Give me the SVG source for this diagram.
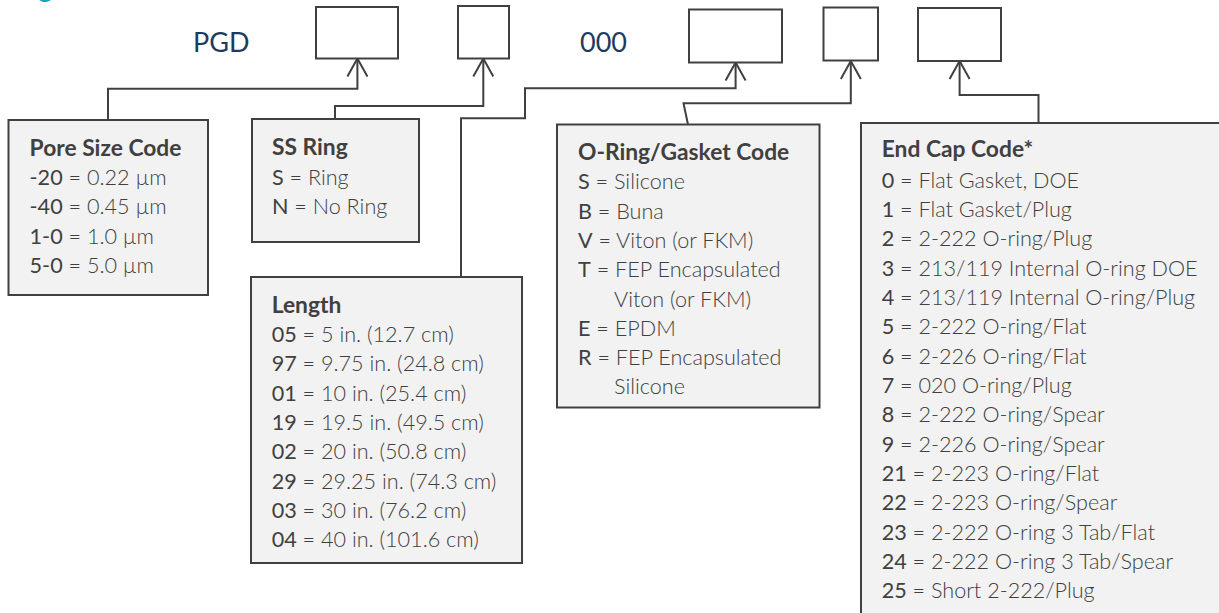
<svg xmlns="http://www.w3.org/2000/svg" width="1219" height="613" viewBox="0 0 1219 613">
<style>
.bg{fill:#ffffff}
.slot{fill:#ffffff;stroke:#404040;stroke-width:2}
.box{fill:#F2F2F2;stroke:#404040;stroke-width:2}
.conn{fill:none;stroke:#404040;stroke-width:2;marker-end:url(#open)}
.big{font-family:Lato,"Open Sans","Liberation Sans",sans-serif;font-size:27px;fill:#1F3A5F;font-weight:400}
.t{font-family:Lato,"Open Sans","Liberation Sans",sans-serif;font-size:21.6px;fill:#404040}
.h{font-weight:700;font-size:22.8px}
.k{font-weight:400}
.v{font-weight:300}
.teal{font-family:Lato,"Liberation Sans",sans-serif;font-size:28px;fill:#1AA3B5}
</style>
<defs>
<marker id="open" markerUnits="userSpaceOnUse" viewBox="0 0 20 22" markerWidth="20" markerHeight="22" refX="19" refY="11" orient="auto">
<path d="M1,1 L19,11 L1,21" fill="none" stroke="#404040" stroke-width="2"/>
</marker>
</defs>
<rect class="bg" x="0" y="0" width="1219" height="613"/>
<text class="teal" x="38" y="-3">g</text>

<g id="header">
<text class="big" x="193" y="52">PGD</text>
<text class="big" x="580" y="52">000</text>
</g>
<g id="slot-pore"><rect class="slot" x="316" y="7" width="82" height="51.5"/></g>
<g id="slot-ring"><rect class="slot" x="458" y="6" width="51" height="52.5"/></g>
<g id="slot-oring"><rect class="slot" x="689" y="9.5" width="93" height="53"/></g>
<g id="slot-length"><rect class="slot" x="823.5" y="7.5" width="54.5" height="53"/></g>
<g id="slot-endcap"><rect class="slot" x="918" y="8" width="83" height="53"/></g>

<g id="connectors">
<path class="conn" d="M108,120 V88.7 H357.4 V58.5"/>
<path class="conn" d="M335,119 V106 H483.3 V58.5"/>
<path class="conn" d="M461,277 V118.3 H525 V88.3 H735.6 V62.5"/>
<path class="conn" d="M688,124.5 L683.5,103.3 H850.8 V61"/>
<path class="conn" d="M1038.5,123 V95 H959.6 V61"/>
</g>

<g id="pore">
<rect class="box" x="8.5" y="120" width="199.5" height="175"/>
<text class="t" x="29.6"><tspan class="h" y="155.5">Pore Size Code</tspan>
<tspan x="29.6" y="185"><tspan class="k">-20</tspan><tspan class="v"> = 0.22 µm</tspan></tspan>
<tspan x="29.6" y="214.3"><tspan class="k">-40</tspan><tspan class="v"> = 0.45 µm</tspan></tspan>
<tspan x="29.6" y="243.6"><tspan class="k">1-0</tspan><tspan class="v"> = 1.0 µm</tspan></tspan>
<tspan x="29.6" y="272.9"><tspan class="k">5-0</tspan><tspan class="v"> = 5.0 µm</tspan></tspan></text>
</g>

<g id="ssring">
<rect class="box" x="252" y="119" width="167" height="123"/>
<text class="t" x="272"><tspan class="h" y="155">SS Ring</tspan>
<tspan x="272" y="185"><tspan class="k">S</tspan><tspan class="v"> = Ring</tspan></tspan>
<tspan x="272" y="214.3"><tspan class="k">N</tspan><tspan class="v"> = No Ring</tspan></tspan></text>
</g>

<g id="length">
<rect class="box" x="251" y="277" width="271" height="286"/>
<text class="t" x="271.7"><tspan class="h" y="312.7">Length</tspan>
<tspan x="271.7" y="342"><tspan class="k">05</tspan><tspan class="v"> = 5 in. (12.7 cm)</tspan></tspan>
<tspan x="271.7" y="371.3"><tspan class="k">97</tspan><tspan class="v"> = 9.75 in. (24.8 cm)</tspan></tspan>
<tspan x="271.7" y="400.6"><tspan class="k">01</tspan><tspan class="v"> = 10 in. (25.4 cm)</tspan></tspan>
<tspan x="271.7" y="429.9"><tspan class="k">19</tspan><tspan class="v"> = 19.5 in. (49.5 cm)</tspan></tspan>
<tspan x="271.7" y="459.2"><tspan class="k">02</tspan><tspan class="v"> = 20 in. (50.8 cm)</tspan></tspan>
<tspan x="271.7" y="488.5"><tspan class="k">29</tspan><tspan class="v"> = 29.25 in. (74.3 cm)</tspan></tspan>
<tspan x="271.7" y="517.8"><tspan class="k">03</tspan><tspan class="v"> = 30 in. (76.2 cm)</tspan></tspan>
<tspan x="271.7" y="547.1"><tspan class="k">04</tspan><tspan class="v"> = 40 in. (101.6 cm)</tspan></tspan></text>
</g>

<g id="oring">
<rect class="box" x="557" y="124.5" width="262.5" height="283"/>
<text class="t" x="578"><tspan class="h" y="160">O-Ring/Gasket Code</tspan>
<tspan x="578" y="189.3"><tspan class="k">S</tspan><tspan class="v"> = Silicone</tspan></tspan>
<tspan x="578" y="218.6"><tspan class="k">B</tspan><tspan class="v"> = Buna</tspan></tspan>
<tspan x="578" y="247.9"><tspan class="k">V</tspan><tspan class="v"> = Viton (or FKM)</tspan></tspan>
<tspan x="578" y="277.2"><tspan class="k">T</tspan><tspan class="v"> = FEP Encapsulated</tspan></tspan>
<tspan class="v" x="614" y="306.5">Viton (or FKM)</tspan>
<tspan x="578" y="335.8"><tspan class="k">E</tspan><tspan class="v"> = EPDM</tspan></tspan>
<tspan x="578" y="365.1"><tspan class="k">R</tspan><tspan class="v"> = FEP Encapsulated</tspan></tspan>
<tspan class="v" x="614" y="394.4">Silicone</tspan></text>
</g>

<g id="endcap">
<rect class="box" x="861" y="123" width="400" height="520"/>
<text class="t" x="881.7"><tspan class="h" y="157">End Cap Code*</tspan>
<tspan x="881.7" y="187.7"><tspan class="k">0</tspan><tspan class="v"> = Flat Gasket, DOE</tspan></tspan>
<tspan x="881.7" y="217"><tspan class="k">1</tspan><tspan class="v"> = Flat Gasket/Plug</tspan></tspan>
<tspan x="881.7" y="246.4"><tspan class="k">2</tspan><tspan class="v"> = 2-222 O-ring/Plug</tspan></tspan>
<tspan x="881.7" y="275.7"><tspan class="k">3</tspan><tspan class="v"> = 213/119 Internal O-ring DOE</tspan></tspan>
<tspan x="881.7" y="305"><tspan class="k">4</tspan><tspan class="v"> = 213/119 Internal O-ring/Plug</tspan></tspan>
<tspan x="881.7" y="334.4"><tspan class="k">5</tspan><tspan class="v"> = 2-222 O-ring/Flat</tspan></tspan>
<tspan x="881.7" y="363.7"><tspan class="k">6</tspan><tspan class="v"> = 2-226 O-ring/Flat</tspan></tspan>
<tspan x="881.7" y="393"><tspan class="k">7</tspan><tspan class="v"> = 020 O-ring/Plug</tspan></tspan>
<tspan x="881.7" y="422.3"><tspan class="k">8</tspan><tspan class="v"> = 2-222 O-ring/Spear</tspan></tspan>
<tspan x="881.7" y="451.7"><tspan class="k">9</tspan><tspan class="v"> = 2-226 O-ring/Spear</tspan></tspan>
<tspan x="881.7" y="481"><tspan class="k">21</tspan><tspan class="v"> = 2-223 O-ring/Flat</tspan></tspan>
<tspan x="881.7" y="510.3"><tspan class="k">22</tspan><tspan class="v"> = 2-223 O-ring/Spear</tspan></tspan>
<tspan x="881.7" y="539.7"><tspan class="k">23</tspan><tspan class="v"> = 2-222 O-ring 3 Tab/Flat</tspan></tspan>
<tspan x="881.7" y="569"><tspan class="k">24</tspan><tspan class="v"> = 2-222 O-ring 3 Tab/Spear</tspan></tspan>
<tspan x="881.7" y="598.3"><tspan class="k">25</tspan><tspan class="v"> = Short 2-222/Plug</tspan></tspan></text>
</g>
</svg>
